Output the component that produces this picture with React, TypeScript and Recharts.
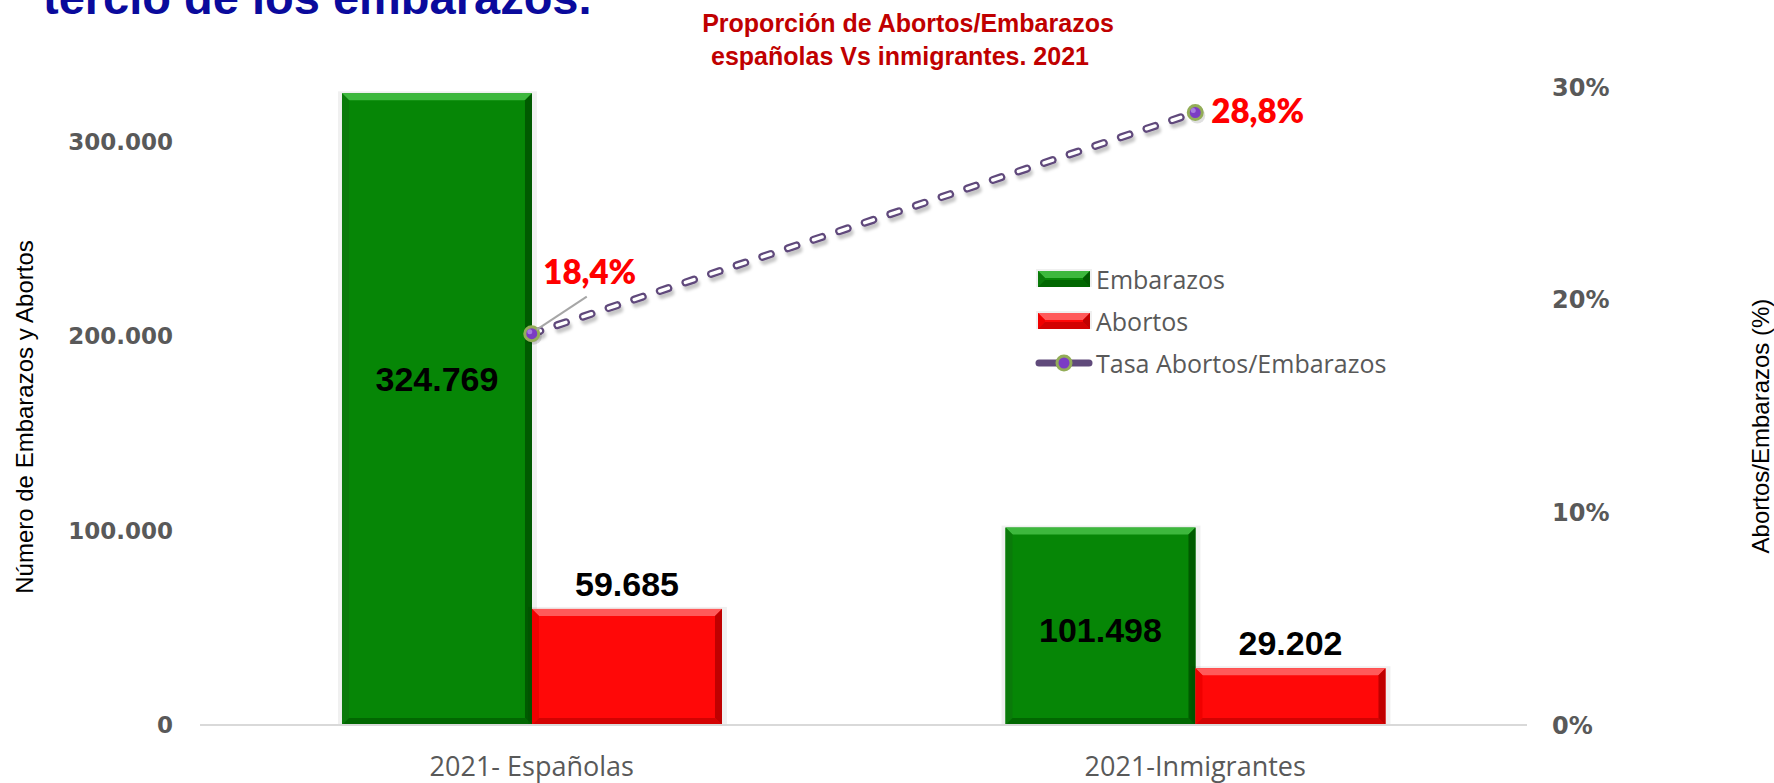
import React from 'react';
import { ComposedChart, Bar, Line, XAxis, YAxis, Legend, LabelList } from 'recharts';

// valores
const categories = ['2021- Españolas', '2021-Inmigrantes'];
const embarazos = [324769, 101498];
const abortos = [59685, 29202];
const tasa = [0.184, 0.288];
const leftTicks = [0, 100000, 200000, 300000];
const rightTicks = [0, 0.1, 0.2, 0.3];
const legendOrder = ['Embarazos', 'Abortos', 'Tasa Abortos/Embarazos'];

const data = categories.map((name, i) => ({
  name,
  embarazos: embarazos[i],
  abortos: abortos[i],
  tasa: tasa[i],
}));

const GREEN = '#068606';
const RED = '#FF0808';
const PURPLE = '#604A7B';
const GRAY = '#595959';

const fmtMiles = (v: number) => String(Math.round(v)).replace(/\B(?=(\d{3})+(?!\d))/g, '.');
const fmtPct = (v: number) => `${(v * 100).toFixed(1).replace('.', ',')}%`;

const bevelColors: Record<string, { light: string; dark: string; side: string }> = {
  [GREEN]: { light: '#3DB83D', dark: '#005A00', side: '#0A7A0A' },
  [RED]: { light: '#FF5A5A', dark: '#C00000', side: '#F00000' },
};

function BevelBar(props: any) {
  const { x, y, width: w, height: h, fill } = props;
  if (!w || !h || h <= 0) return null;
  const c = bevelColors[fill] ?? { light: fill, dark: fill, side: fill };
  const b = Math.min(7, h / 2);
  return (
    <g>
      <rect x={x - 4} y={y - 2} width={w + 9} height={h + 2} fill="#000" opacity={0.06} />
      <rect x={x} y={y} width={w} height={h} fill={fill} />
      <polygon points={`${x},${y} ${x + w},${y} ${x + w - b},${y + b} ${x + b},${y + b}`} fill={c.light} />
      <polygon points={`${x},${y} ${x + b},${y + b} ${x + b},${y + h - b} ${x},${y + h}`} fill={c.side} />
      <polygon points={`${x + w},${y} ${x + w},${y + h} ${x + w - b},${y + h - b} ${x + w - b},${y + b}`} fill={c.dark} />
      <polygon points={`${x},${y + h} ${x + w},${y + h} ${x + w - b},${y + h - b} ${x + b},${y + h - b}`} fill={c.dark} opacity={0.7} />
    </g>
  );
}

function MarkerDot(props: any) {
  const { cx, cy } = props;
  if (cx == null || cy == null) return null;
  return (
    <g>
      <circle cx={cx + 2} cy={cy + 3} r={8} fill="#000" opacity={0.12} />
      <circle cx={cx} cy={cy} r={7} fill="#7B3CC4" stroke="#93AD58" strokeWidth={3} />
      <circle cx={cx - 2} cy={cy - 2} r={2.5} fill="#A67BE0" />
    </g>
  );
}

const pick = (p: any) => {
  const vb = p.viewBox || {};
  return {
    x: p.x ?? vb.x,
    y: p.y ?? vb.y,
    width: p.width ?? vb.width ?? 0,
    height: p.height ?? vb.height ?? 0,
  };
};

const embLabelShift = [-30, 4];

function EmbLabel(props: any) {
  const { x, y, width, height } = pick(props);
  const cx = x + width / 2;
  const cy = y + height / 2 + (embLabelShift[props.index] ?? 0);
  return (
    <text x={cx} y={cy} textAnchor="middle" dominantBaseline="central"
      fontFamily="'Liberation Sans', Arial, sans-serif" fontWeight="bold" fontSize={34} fill="#000">
      {fmtMiles(props.value)}
    </text>
  );
}

function AboLabel(props: any) {
  const { x, y, width } = pick(props);
  return (
    <text x={x + width / 2} y={y - 13} textAnchor="middle"
      fontFamily="'Liberation Sans', Arial, sans-serif" fontWeight="bold" fontSize={34} fill="#000">
      {fmtMiles(props.value)}
    </text>
  );
}

function TasaLabel(props: any) {
  const { x, y } = pick(props);
  const style = { fontFamily: "Lato, 'Open Sans', sans-serif", fontWeight: 800, fontSize: 33, fill: '#FF0000' };
  if (props.index === 0) {
    return (
      <g>
        <line x1={x + 5} y1={y - 4} x2={x + 55} y2={y - 37} stroke="#A6A6A6" strokeWidth={2} />
        <text x={x + 58} y={y - 50} textAnchor="middle" style={style}>{fmtPct(props.value)}</text>
      </g>
    );
  }
  return (
    <text x={x + 16} y={y + 10} textAnchor="start" style={style}>{fmtPct(props.value)}</text>
  );
}

function LegendSwatch({ color }: { color: string }) {
  return (
    <svg width={56} height={20} style={{ display: 'block' }}>
      <BevelBar x={2} y={2} width={52} height={16} fill={color} />
    </svg>
  );
}

function LegendLine() {
  return (
    <svg width={58} height={22} style={{ display: 'block' }}>
      <line x1={4} y1={11} x2={54} y2={11} stroke={PURPLE} strokeWidth={7} strokeLinecap="round" />
      <circle cx={29} cy={11} r={7} fill="#7B3CC4" stroke="#93AD58" strokeWidth={3} />
    </svg>
  );
}

function ChartLegend(props: any) {
  const items = (props.payload || [])
    .filter((e: any) => e.type !== 'none' && legendOrder.includes(e.value))
    .sort((a: any, b: any) => legendOrder.indexOf(a.value) - legendOrder.indexOf(b.value));
  return (
    <div style={{ fontFamily: "'Open Sans', sans-serif", fontSize: 25, color: GRAY }}>
      {items.map((e: any) => (
        <div key={e.value} style={{ display: 'flex', alignItems: 'center', height: 42 }}>
          <div style={{ width: 58, display: 'flex', justifyContent: 'center' }}>
            {e.type === 'line' ? <LegendLine /> : <LegendSwatch color={e.color} />}
          </div>
          <span style={{ marginLeft: 3 }}>{e.value}</span>
        </div>
      ))}
    </div>
  );
}

function LeftTitle(props: any) {
  const vb = props.viewBox || { x: 0, y: 87, height: 638 };
  const cx = vb.x + 24;
  const cy = vb.y + vb.height / 2 + 11;
  return (
    <text x={cx} y={cy} transform={`rotate(-90 ${cx} ${cy})`} textAnchor="middle" dominantBaseline="central"
      fontFamily="'Liberation Sans', Arial, sans-serif" fontSize={24} fill="#000">
      Número de Embarazos  y Abortos
    </text>
  );
}

function RightTitle(props: any) {
  const vb = props.viewBox || { x: 1527, y: 87, width: 247, height: 638 };
  const cx = vb.x + vb.width - 14;
  const cy = vb.y + vb.height / 2 + 20;
  return (
    <text x={cx} y={cy} transform={`rotate(-90 ${cx} ${cy})`} textAnchor="middle" dominantBaseline="central"
      fontFamily="'Liberation Sans', Arial, sans-serif" fontSize={24} fill="#000">
      Abortos/Embarazos (%)
    </text>
  );
}

export default function App() {
  return (
    <div style={{ position: 'absolute', left: 0, top: 0, width: 1774, height: 783, background: '#fff', overflow: 'hidden' }}>
      <svg width={1774} height={90} style={{ position: 'absolute', left: 0, top: 0 }}>
        <text x={43} y={14} fontFamily="'Liberation Sans', Arial, sans-serif" fontWeight="bold" fontSize={47} fill="#0A0A9C">
          tercio de los embarazos.
        </text>
        <g fontFamily="'Liberation Sans', Arial, sans-serif" fontWeight="bold" fontSize={25} fill="#C00000" textAnchor="middle">
          <text x={908} y={32}>Proporción de Abortos/Embarazos</text>
          <text x={900} y={65}>españolas Vs inmigrantes. 2021</text>
        </g>
      </svg>
      <ComposedChart
        width={1774}
        height={783}
        data={data}
        margin={{ top: 87, right: 0, bottom: 0, left: 0 }}
        barCategoryGap="21.4%"
        barGap={0}
        style={{ position: 'absolute', left: 0, top: 0 }}
      >
        <defs>
          <filter id="lineShadow" x="-5%" y="-20%" width="110%" height="140%">
            <feDropShadow dx={2} dy={4} stdDeviation={1.5} floodColor="#000" floodOpacity={0.22} />
          </filter>
        </defs>
        <XAxis
          dataKey="name"
          height={58}
          axisLine={{ stroke: '#D9D9D9', strokeWidth: 2 }}
          tickLine={false}
          tickMargin={26}
          tick={{ fill: GRAY, fontSize: 27, fontFamily: "'Open Sans', sans-serif" }}
        />
        <YAxis
          yAxisId="left"
          width={200}
          domain={[0, 328000]}
          ticks={leftTicks}
          tickFormatter={fmtMiles}
          axisLine={false}
          tickLine={false}
          tickMargin={21}
          tick={{ fill: GRAY, fontSize: 23, fontWeight: 'bold', fontFamily: "'DejaVu Sans', sans-serif" }}
          label={<LeftTitle />}
        />
        <YAxis
          yAxisId="right"
          orientation="right"
          width={247}
          domain={[0, 0.3]}
          ticks={rightTicks}
          tickFormatter={(v: number) => `${Math.round(v * 100)}%`}
          axisLine={false}
          tickLine={false}
          tickMargin={19}
          tick={{ fill: GRAY, fontSize: 24, fontWeight: 'bold', fontFamily: "'DejaVu Sans', sans-serif" }}
          label={<RightTitle />}
        />
        <Legend
          layout="vertical"
          align="center"
          verticalAlign="middle"
          wrapperStyle={{ left: 1035, top: 258, width: 420 }}
          content={<ChartLegend />}
        />
        <Bar yAxisId="left" dataKey="embarazos" name="Embarazos" fill={GREEN} shape={<BevelBar />} isAnimationActive={false}>
          <LabelList dataKey="embarazos" content={<EmbLabel />} />
        </Bar>
        <Bar yAxisId="left" dataKey="abortos" name="Abortos" fill={RED} shape={<BevelBar />} isAnimationActive={false}>
          <LabelList dataKey="abortos" content={<AboLabel />} />
        </Bar>
        <Line
          yAxisId="right"
          dataKey="tasa"
          name="Tasa Abortos/Embarazos"
          stroke={PURPLE}
          strokeWidth={8}
          strokeDasharray="9 18"
          strokeLinecap="round"
          filter="url(#lineShadow)"
          dot={false}
          activeDot={false}
          isAnimationActive={false}
        />
        <Line
          yAxisId="right"
          dataKey="tasa"
          legendType="none"
          stroke="#FFFFFF"
          strokeWidth={3.5}
          strokeDasharray="9 18"
          strokeLinecap="round"
          dot={false}
          activeDot={false}
          isAnimationActive={false}
        />
        <Line
          yAxisId="right"
          dataKey="tasa"
          legendType="none"
          stroke="none"
          dot={<MarkerDot />}
          activeDot={false}
          isAnimationActive={false}
        >
          <LabelList dataKey="tasa" content={<TasaLabel />} />
        </Line>
      </ComposedChart>
    </div>
  );
}
